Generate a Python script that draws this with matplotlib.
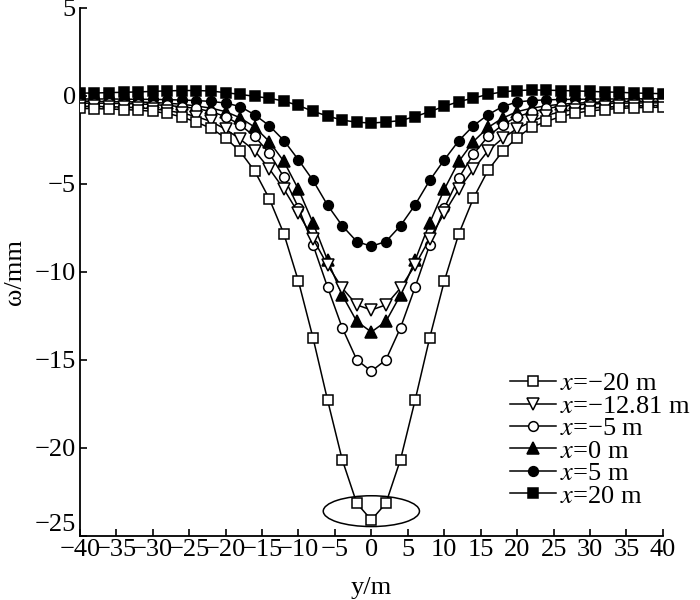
import matplotlib
matplotlib.use('Agg')
import matplotlib.pyplot as plt
from matplotlib.patches import Ellipse

plt.rcParams['font.family'] = ['Liberation Serif', 'DejaVu Serif']
plt.rcParams['mathtext.fontset'] = 'stix'

# y positions (m)
y_pos = [-40, -38, -36, -34, -32, -30, -28, -26, -24, -22, -20, -18, -16, -14, -12, -10, -8, -6, -4, -2, 0,
         2, 4, 6, 8, 10, 12, 14, 16, 18, 20, 22, 24, 26, 28, 30, 32, 34, 36, 38, 40]

# settlement w (mm) for each x section
w_m20 = [-0.72, -0.73, -0.75, -0.78, -0.82, -0.88, -1.0, -1.2, -1.5, -1.84, -2.4, -3.16, -4.28, -5.85, -7.84,
         -10.54, -13.76, -17.3, -20.67, -23.15, -24.1, -23.15, -20.67, -17.3, -13.76, -10.54, -7.84, -5.82,
         -4.24, -3.16, -2.37, -1.78, -1.46, -1.18, -0.98, -0.86, -0.78, -0.72, -0.68, -0.66, -0.65]
w_m1281 = [-0.6, -0.6, -0.62, -0.64, -0.68, -0.74, -0.84, -0.98, -1.18, -1.46, -1.9, -2.46, -3.13, -4.15, -5.3,
           -6.67, -8.12, -9.63, -10.92, -11.88, -12.17, -11.88, -10.92, -9.63, -8.12, -6.67, -5.3, -4.18,
           -3.13, -2.42, -1.86, -1.46, -1.12, -0.9, -0.78, -0.7, -0.64, -0.6, -0.57, -0.55, -0.55]
w_m5 = [-0.42, -0.42, -0.43, -0.44, -0.46, -0.5, -0.55, -0.62, -0.72, -0.9, -1.18, -1.65, -2.31, -3.26, -4.62,
        -6.36, -8.47, -10.88, -13.18, -15.0, -15.65, -15.0, -13.18, -10.88, -8.47, -6.38, -4.66, -3.32,
        -2.31, -1.65, -1.18, -0.94, -0.72, -0.6, -0.52, -0.47, -0.44, -0.42, -0.41, -0.4, -0.4]
w_0 = [-0.32, -0.32, -0.33, -0.34, -0.35, -0.38, -0.42, -0.48, -0.58, -0.7, -0.9, -1.25, -1.78, -2.6, -3.73,
       -5.32, -7.23, -9.35, -11.32, -12.82, -13.42, -12.82, -11.32, -9.35, -7.23, -5.32, -3.73, -2.6,
       -1.8, -1.27, -0.9, -0.7, -0.57, -0.48, -0.42, -0.38, -0.35, -0.33, -0.32, -0.31, -0.31]
w_5 = [-0.18, -0.18, -0.18, -0.19, -0.2, -0.2, -0.22, -0.24, -0.27, -0.32, -0.41, -0.61, -1.08, -1.7, -2.54,
       -3.64, -4.81, -6.22, -7.38, -8.28, -8.55, -8.28, -7.38, -6.2, -4.81, -3.64, -2.55, -1.7,
       -1.08, -0.61, -0.35, -0.27, -0.23, -0.21, -0.2, -0.19, -0.18, -0.18, -0.17, -0.17, -0.17]
w_20 = [0.15, 0.16, 0.18, 0.2, 0.22, 0.25, 0.28, 0.3, 0.3, 0.27, 0.18, 0.08, -0.03, -0.14, -0.3,
        -0.55, -0.88, -1.15, -1.38, -1.5, -1.55, -1.49, -1.41, -1.18, -0.9, -0.6, -0.33, -0.13,
        0.08, 0.22, 0.3, 0.33, 0.32, 0.3, 0.28, 0.25, 0.22, 0.2, 0.16, 0.14, 0.12]

labels = ['$x$=\u221220 m', '$x$=\u221212.81 m', '$x$=\u22125 m', '$x$=0 m', '$x$=5 m', '$x$=20 m']
series = [w_m20, w_m1281, w_m5, w_0, w_5, w_20]
markers = ['s', 'v', 'o', '^', 'o', 's']
faces = ['white', 'white', 'white', 'black', 'black', 'black']
msizes = [7.5, 8.5, 7, 8.5, 7, 7.5]

fig = plt.figure(figsize=(7, 6), dpi=100)
ax = fig.add_axes([0.114, 0.107, 0.833, 0.88])

for i, (w, lab) in enumerate(zip(series, labels)):
    ax.plot(y_pos, w, color='black', lw=1.1, marker=markers[i], ms=msizes[i],
            mfc=faces[i], mec='black', mew=1.1, label=lab, zorder=10 - i)

ax.add_patch(Ellipse((0, -23.6), 13.2, 1.75, fill=False, ec='black', lw=1.1, zorder=12))

ax.set_xlim(-40, 40)
ax.set_ylim(-25, 5)
ax.set_xticks(range(-40, 41, 5))
ax.set_yticks(range(-25, 6, 5))
ax.set_xticklabels([str(v).replace('-', '\u2212') for v in range(-40, 41, 5)])
ylabs = ax.set_yticklabels([str(v).replace('-', '\u2212') for v in range(-25, 6, 5)])
ylabs[0].set_va('bottom')
ax.spines['top'].set_visible(False)
ax.spines['right'].set_visible(False)
ax.spines['left'].set_linewidth(1.3)
ax.spines['bottom'].set_linewidth(1.3)
ax.tick_params(direction='in', length=5, width=1.2, labelsize=19, pad=3)
ax.tick_params(axis='x', pad=2)

ax.set_xlabel('y/m', fontsize=19, labelpad=12)
ax.set_ylabel('\u03c9/mm', fontsize=19, labelpad=6)

ax.legend(loc='upper left', bbox_to_anchor=(0.7286, 0.38), bbox_transform=fig.transFigure,
          frameon=False, fontsize=19, handlelength=1.75, handletextpad=0.15,
          labelspacing=-0.04, borderpad=0, borderaxespad=0)

fig.savefig('out.png', dpi=100)
